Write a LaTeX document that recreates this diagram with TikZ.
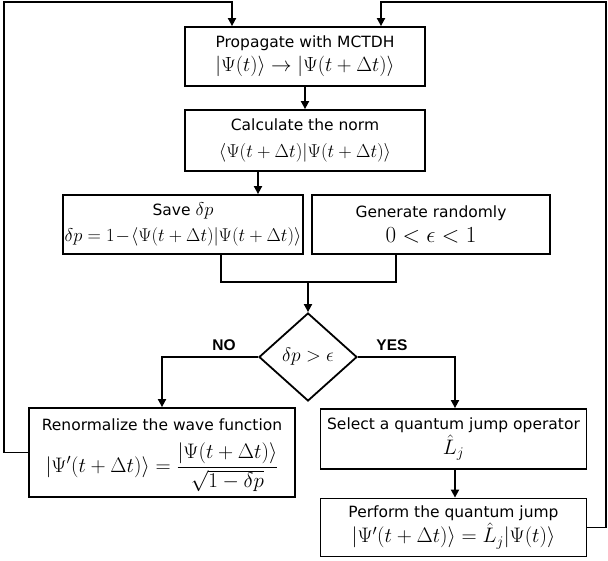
\RequirePackage{fix-cm}
\documentclass[tikz,border=0pt]{standalone}
\usepackage{amsmath}
\usepackage[no-math]{fontspec}
\setmainfont{DejaVu Sans}
\newfontfamily\lblfont{Liberation Sans}
\usetikzlibrary{arrows.meta,shapes.geometric}
\newcommand{\txt}{\fontsize{15.5}{19}\selectfont}
\newcommand{\mth}[1]{\fontsize{#1}{#1}\selectfont}
\begin{document}
\begin{tikzpicture}[x=1pt,y=-1pt,
  box/.style={draw, line width=1.8pt, rectangle, inner sep=0pt, align=center, font=\txt},
  dia/.style={draw, line width=1.8pt, diamond, inner sep=0pt},
  ln/.style={line width=1.8pt},
  arr/.style={line width=1.8pt, -{Triangle[length=8pt,width=8pt]}},
  lbl/.style={font=\lblfont\bfseries\fontsize{15.5}{18}\selectfont, inner sep=0pt}]
\useasboundingbox (0,0) rectangle (608,561);

\node[box, minimum width=240pt, minimum height=59pt] (prop) at (305,56.5)
  {Propagate with MCTDH\\[5pt] {\mth{20.5}$|\Psi(t)\rangle \rightarrow |\Psi(t+\Delta t)\rangle$}};
\node[box, minimum width=240pt, minimum height=61pt] (norm) at (305,140.5)
  {Calculate the norm\\[8pt] {\mth{18.7}$\langle\Psi(t+\Delta t)|\Psi(t+\Delta t)\rangle$}};
\node[box, minimum width=240pt, minimum height=59pt] (save) at (183,224.5)
  {Save {\mth{18.5}$\delta p$}\\[7pt] {\mth{18.5}$\delta p = 1 \!-\! \langle\Psi(t+\Delta t)|\Psi(t+\Delta t)\rangle$}};
\node[box, minimum width=238pt, minimum height=59pt] (gen) at (431,224.5)
  {Generate randomly\\[6pt] {\mth{23}$0<\epsilon<1$}};
\node[dia, minimum width=98pt, minimum height=88pt] (dec) at (308,357)
  {\mth{19.4}$\delta p > \epsilon$};
\node[box, minimum width=266pt, minimum height=89pt] (ren) at (162,452.5)
  {\rule{0pt}{17.5pt}Renormalize the wave function\\[11pt] {\mth{21}$|\Psi'(t+\Delta t)\rangle = \dfrac{|\Psi(t+\Delta t)\rangle}{\sqrt{1-\delta p}}$}};
\node[box, minimum width=266pt, minimum height=60pt] (sel) at (453.5,439)
  {Select a quantum jump operator\\[1pt] {\mth{21}$\hat{L}_j$}};
\node[box, minimum width=266pt, minimum height=58pt] (perf) at (453.5,527.5)
  {Perform the quantum jump\\[1pt] {\mth{21}$|\Psi'(t+\Delta t)\rangle = \hat{L}_j|\Psi(t)\rangle$}};

\node[lbl] (no) at (224,345) {NO};
\node[lbl] (yes) at (392,345) {YES};

\coordinate (sv) at (258,0);
\coordinate (ls) at (221,0);
\coordinate (rs) at (396,0);
\coordinate (mrg) at (308,282);
\coordinate (ys) at (455,0);
\coordinate (tl) at (4,2);
\coordinate (tr) at (606,2);
\coordinate (fa) at (232,0);
\coordinate (fb) at (381,0);

\draw[arr] (prop.south) -- (norm.north);
\draw[arr] (norm.south -| sv) -- (save.north -| sv);
\draw[ln] (save.south -| ls) |- (mrg) -| (gen.south -| rs);
\draw[arr] (mrg) -- (dec.north);
\draw[arr] (dec.west) -| (ren.north);
\draw[arr] (dec.east) -| (sel.north -| ys);
\draw[arr] (sel.south -| ys) -- (perf.north -| ys);
\draw[arr] (ren.west) -| (tl) -| (prop.north -| fa);
\draw[arr] (perf.east) -| (tr) -| (prop.north -| fb);
\end{tikzpicture}
\end{document}
